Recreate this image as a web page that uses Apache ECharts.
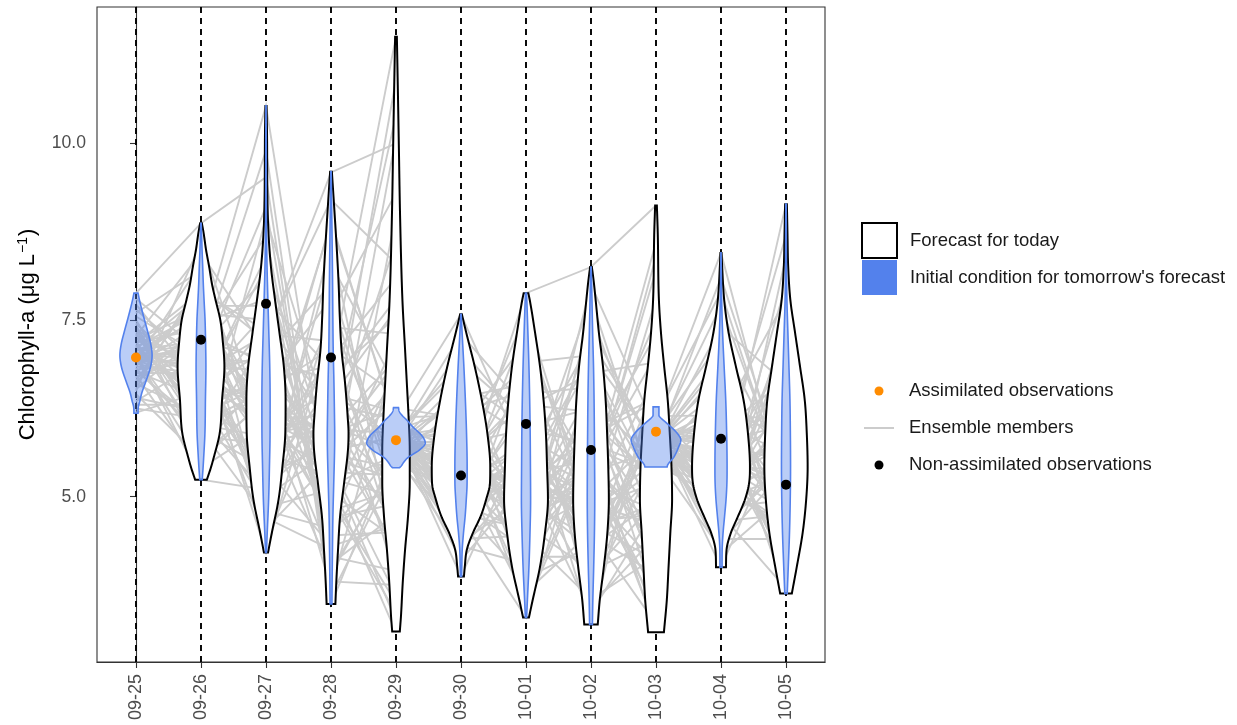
<!DOCTYPE html>
<html>
<head>
<meta charset="utf-8">
<script src="https://cdn.jsdelivr.net/npm/echarts@6/dist/echarts.min.js"></script>
<style>html,body{margin:0;padding:0;background:#fff}#c{width:1237px;height:725px}</style>
</head>
<body>
<div id="c"></div>
<script>
// ---------- data ----------
const categories = ['09-25','09-26','09-27','09-28','09-29','09-30','10-01','10-02','10-03','10-04','10-05'];
const yTicks = [5, 7.5, 10];

// observations
const assimilatedObs = [[0, 6.97], [4, 5.80], [8, 5.92]];
const nonAssimilatedObs = [[1, 7.22], [2, 7.73], [3, 6.97], [5, 5.30], [6, 6.03], [7, 5.66], [9, 5.82], [10, 5.17]];

// ensemble members: forecast value per day (f), initial condition after assimilation (ic)
const ens_ic_0925 = [7.02,6.85,7.31,6.64,7.12,6.95,7.88,6.78,7.45,6.52,7.05,6.90,7.22,6.19,7.60,6.98,6.70,7.15,6.88,7.38,6.45,7.08,6.93,7.27,6.60,7.00,7.72,6.82,7.18,6.35,7.10,6.97,7.50,6.75,7.03,
  6.92,7.25,6.58,7.40,6.80,7.06,6.40,7.65,6.99,6.72,7.14,6.87,7.35,6.50,7.01,7.20,6.68,6.94,7.80,6.30,7.09,6.84,7.42,6.62,7.04,6.91,7.28,6.25,7.12,6.96,7.55,6.77,7.00,6.89,7.17];
const ens_f_0926 = [6.80,7.45,5.92,7.95,6.35,7.10,8.87,6.02,6.60,7.30,5.24,6.95,7.65,6.48,8.20,5.70,7.02,6.25,7.80,6.70,5.55,7.20,6.88,8.45,6.15,7.55,6.58,5.85,7.38,6.92,6.40,7.12,5.98,6.75,7.00,
  7.15,6.45,8.05,5.60,6.90,7.50,6.20,6.85,7.70,5.40,6.65,7.25,6.05,8.60,6.95,5.80,7.40,6.55,7.05,6.30,7.85,6.75,5.95,7.35,6.50,8.30,6.82,6.10,7.60,5.50,7.00,6.40,7.20,6.62,7.90];
const ens_f_0927 = [6.10,7.80,5.40,7.20,6.55,4.21,9.52,5.85,6.30,10.53,5.10,6.90,6.05,8.40,5.65,6.70,4.80,7.45,6.20,5.95,8.95,6.40,5.25,7.05,6.60,4.55,7.60,5.75,6.85,6.15,5.50,8.10,6.45,7.30,5.00,
  5.80,7.10,4.60,6.35,9.10,5.55,6.75,4.95,7.70,6.00,5.30,8.70,6.50,5.90,4.40,7.25,6.25,5.15,9.90,6.65,5.60,7.00,4.70,6.10,8.25,5.45,6.80,5.05,7.50,6.40,5.70,4.85,6.95,6.05,7.35];
const ens_f_0928 = [5.60,6.80,4.30,9.59,5.20,7.40,3.47,6.10,5.85,4.80,8.30,5.45,6.45,3.90,7.00,5.70,4.55,6.25,5.05,8.85,5.95,4.15,6.60,5.35,7.80,5.50,4.95,6.00,3.70,5.80,6.95,5.25,4.65,7.20,5.65,
  6.30,4.45,7.60,5.55,3.80,6.70,5.15,8.60,4.90,6.05,5.75,4.05,7.10,5.40,6.50,9.20,4.70,5.90,3.60,6.85,5.30,8.00,4.25,6.15,5.60,7.50,5.00,6.40,4.50,5.85,8.90,5.10,6.65,3.95,5.95];
const ens_f_0929 = [5.40,11.51,4.60,10.00,3.08,7.30,5.75,4.20,8.60,5.10,6.55,3.60,6.20,5.55,4.85,6.90,5.20,10.40,4.40,6.05,5.90,3.95,7.80,5.30,4.95,6.35,3.35,5.65,7.05,4.70,8.10,5.00,6.70,4.30,5.85,
  6.10,4.50,9.30,5.25,3.75,7.55,5.60,4.10,6.80,5.15,10.90,4.75,6.45,3.25,5.80,8.30,4.90,6.25,5.45,3.85,7.20,5.05,9.00,4.55,6.60,5.35,3.50,7.65,5.70,4.25,6.00,10.10,4.80,5.50,6.95];
const ens_ic_0929 = [5.78,5.70,5.85,6.10,5.62,5.75,5.90,5.55,5.80,6.26,5.68,5.73,5.88,5.41,5.79,5.82,5.65,5.95,5.76,5.60,5.83,5.72,6.02,5.50,5.77,5.86,5.69,5.74,6.15,5.58,5.81,5.71,5.92,5.66,5.78,
  5.74,5.84,5.64,5.98,5.77,5.52,5.87,5.71,6.05,5.79,5.61,5.90,5.75,5.46,5.82,6.20,5.70,5.80,5.57,5.93,5.76,5.67,5.84,6.00,5.73,5.63,5.89,5.78,5.53,5.81,5.96,5.72,5.75,6.12,5.69];
const ens_f_0930 = [5.30,6.40,4.70,7.58,5.10,5.60,3.87,5.90,4.95,6.10,5.40,4.45,6.80,5.20,5.75,4.80,5.50,6.25,5.05,4.25,5.35,7.10,5.65,4.60,5.25,6.00,5.45,4.90,5.15,6.55,5.55,4.35,5.80,5.00,5.38,
  5.45,4.90,6.20,5.15,4.50,5.70,6.90,5.25,4.75,5.95,5.35,4.30,6.45,5.05,5.60,4.65,5.85,7.30,5.20,4.95,6.05,5.40,4.10,5.65,6.65,5.10,4.85,5.50,6.30,5.00,4.40,5.75,5.30,6.15,4.80];
const ens_f_1001 = [4.90,6.60,3.29,5.50,7.88,4.40,5.90,4.95,6.20,3.80,5.20,7.00,4.60,5.70,4.10,6.40,5.05,4.75,7.40,5.35,3.55,6.00,4.85,5.60,4.30,6.85,5.15,4.50,5.80,3.95,6.30,5.00,4.65,5.45,5.25,
  5.10,4.25,6.50,4.80,5.55,3.65,6.10,5.30,4.55,7.20,5.00,4.05,5.85,6.70,4.70,5.40,3.45,6.25,4.95,5.65,4.35,7.60,5.20,4.60,6.00,5.50,3.85,6.45,4.90,5.75,4.45,5.95,6.90,4.15,5.35];
const ens_f_1002 = [5.20,3.60,6.30,4.70,8.25,5.50,4.20,5.80,3.19,6.70,4.90,5.35,7.40,4.45,5.95,3.90,6.05,5.10,4.60,7.00,5.60,4.05,6.50,4.80,5.40,3.45,7.80,5.00,4.35,5.70,6.20,4.95,5.25,4.55,6.90,
  4.85,6.10,3.80,5.45,7.20,4.50,5.65,3.35,6.40,5.05,4.25,7.60,5.30,4.75,6.00,3.70,5.55,6.75,4.40,5.15,8.00,4.65,5.85,3.95,6.25,5.00,4.30,6.55,5.35,4.90,3.55,5.75,7.00,4.15,5.50];
const ens_f_1003 = [4.80,6.20,3.50,5.40,9.12,4.30,5.90,3.08,6.80,5.10,4.60,7.50,5.60,3.90,6.40,4.95,5.25,8.20,4.10,5.75,3.30,6.00,4.70,5.50,7.00,4.45,5.00,3.70,6.60,5.30,4.20,5.85,8.60,4.90,5.15,
  5.20,3.95,6.50,4.55,5.70,3.20,7.30,4.85,5.45,4.05,6.15,5.05,3.60,7.80,4.65,5.55,4.25,6.90,5.35,3.45,5.95,4.75,6.35,4.40,5.15,8.40,4.95,3.80,5.65,6.70,4.15,5.40,4.50,6.05,3.15];
const ens_ic_1003 = [5.80,5.72,5.88,6.05,5.65,5.82,5.95,5.50,5.78,6.27,5.70,5.84,5.90,5.42,5.76,5.86,5.60,6.12,5.81,5.55,5.79,5.74,6.00,5.46,5.83,5.92,5.68,5.77,6.20,5.58,5.85,5.73,5.97,5.63,5.80,
  5.78,5.87,5.66,6.02,5.81,5.53,5.91,5.75,6.08,5.83,5.62,5.94,5.79,5.48,5.85,6.18,5.72,5.82,5.59,5.96,5.80,5.69,5.86,6.00,5.77,5.64,5.89,5.81,5.51,5.84,5.98,5.74,5.79,6.14,5.71];
const ens_f_1004 = [5.40,6.80,4.60,8.45,5.10,5.90,4.00,6.30,5.25,4.85,7.40,5.55,4.40,6.10,5.00,5.70,4.70,7.90,5.35,4.25,6.50,5.15,5.80,4.95,6.00,5.45,4.55,7.00,5.20,5.60,4.80,6.20,5.30,5.05,5.50,
  5.65,4.90,6.40,5.20,4.45,5.85,7.20,5.35,4.65,6.05,5.50,4.20,6.70,5.10,5.75,4.75,5.95,7.70,5.25,4.95,6.25,5.45,4.35,5.70,6.90,5.15,4.85,5.55,6.55,5.05,4.50,5.90,5.40,6.15,8.10];
const ens_f_1005 = [5.40,4.20,7.20,5.00,9.14,4.70,6.10,3.63,5.80,4.95,6.60,5.20,4.40,7.80,5.55,3.95,6.30,5.10,4.80,8.40,5.65,4.55,6.00,5.30,3.80,7.00,5.45,4.85,5.90,4.30,6.80,5.05,5.25,4.65,5.70,
  5.15,6.45,4.50,5.75,7.50,4.10,5.35,6.20,4.75,5.60,8.70,5.00,4.25,6.05,5.50,3.70,6.65,5.20,4.60,7.30,5.85,4.90,5.40,6.35,4.35,5.95,8.00,5.10,4.70,6.90,5.55,4.00,5.80,6.10,5.30];

// violin density profiles: [chlorophyll value, relative density]
const vio_ic_0925 = [[6.18,0.07],[6.27,0.08],[6.35,0.13],[6.47,0.20],[6.61,0.32],[6.84,0.50],[7.00,0.55],[7.17,0.50],[7.32,0.41],[7.55,0.26],[7.78,0.12],[7.88,0.07]];
const vio_f_0926 = [[5.24,0.20],[5.40,0.33],[5.56,0.44],[5.90,0.64],[6.37,0.72],[6.84,0.80],[7.22,0.74],[7.50,0.66],[7.78,0.50],[8.00,0.38],[8.25,0.28],[8.50,0.17],[8.73,0.09],[8.87,0.03]];
const vio_f_0927 = [[4.21,0.07],[4.49,0.20],[4.96,0.43],[5.42,0.56],[5.90,0.66],[6.37,0.67],[6.84,0.61],[7.32,0.46],[7.78,0.31],[8.25,0.17],[8.73,0.085],[9.20,0.05],[10.14,0.035],[10.53,0.02]];
const vio_f_0928 = [[3.48,0.15],[3.78,0.18],[4.25,0.24],[4.72,0.31],[5.20,0.45],[5.66,0.58],[5.90,0.60],[6.13,0.57],[6.61,0.48],[7.08,0.36],[7.55,0.30],[8.02,0.26],[8.49,0.20],[8.96,0.13],[9.60,0.03]];
const vio_f_0929 = [[3.09,0.13],[3.31,0.17],[3.78,0.23],[4.25,0.31],[4.72,0.41],[5.20,0.47],[5.66,0.47],[6.13,0.43],[6.61,0.37],[7.08,0.31],[7.78,0.22],[8.96,0.14],[9.90,0.10],[10.61,0.07],[11.51,0.03]];
const vio_ic_0929 = [[5.41,0.12],[5.43,0.17],[5.49,0.27],[5.55,0.40],[5.66,0.80],[5.76,1.00],[5.85,0.91],[5.99,0.57],[6.08,0.38],[6.14,0.23],[6.20,0.12],[6.26,0.085]];
const vio_f_0930 = [[3.87,0.10],[4.01,0.13],[4.25,0.20],[4.49,0.41],[4.72,0.67],[4.96,0.86],[5.19,0.99],[5.42,1.00],[5.90,0.90],[6.37,0.71],[6.84,0.47],[7.32,0.18],[7.58,0.03]];
const vio_f_1001 = [[3.29,0.10],[3.54,0.23],[4.01,0.48],[4.49,0.65],[4.96,0.75],[5.42,0.72],[5.90,0.68],[6.37,0.60],[6.84,0.48],[7.32,0.31],[7.78,0.13],[7.88,0.08]];
const vio_f_1002 = [[3.19,0.23],[3.54,0.30],[4.01,0.44],[4.49,0.56],[4.96,0.61],[5.42,0.59],[5.90,0.55],[6.37,0.50],[6.84,0.41],[7.32,0.27],[7.78,0.16],[8.02,0.10],[8.25,0.03]];
const vio_f_1003 = [[3.08,0.27],[3.54,0.37],[4.01,0.43],[4.49,0.49],[4.96,0.55],[5.42,0.53],[5.90,0.47],[6.37,0.40],[6.84,0.28],[7.32,0.17],[7.78,0.10],[8.73,0.06],[9.12,0.03]];
const vio_ic_1003 = [[5.42,0.38],[5.45,0.40],[5.56,0.61],[5.71,0.78],[5.80,0.85],[5.90,0.72],[6.05,0.34],[6.12,0.15],[6.15,0.10],[6.27,0.10]];
const vio_f_1004 = [[4.00,0.17],[4.25,0.19],[4.49,0.34],[4.72,0.58],[4.96,0.82],[5.19,0.96],[5.42,0.99],[5.90,0.92],[6.37,0.77],[6.84,0.51],[7.32,0.26],[7.78,0.11],[8.25,0.04],[8.45,0.02]];
const vio_f_1005 = [[3.63,0.20],[4.01,0.37],[4.49,0.57],[4.96,0.69],[5.42,0.74],[5.90,0.71],[6.37,0.64],[6.84,0.48],[7.32,0.31],[7.78,0.15],[8.25,0.075],[8.73,0.05],[9.14,0.03]];

// ---------- build ----------
const forecastProfiles = [null, vio_f_0926, vio_f_0927, vio_f_0928, vio_f_0929, vio_f_0930, vio_f_1001, vio_f_1002, vio_f_1003, vio_f_1004, vio_f_1005];
const IC_SCALE = 0.21; // non-assimilated days: IC equals forecast, drawn on the IC layer's area scale
const icProfiles = forecastProfiles.map(p => p ? p.map(q => [q[0], q[1] * IC_SCALE]) : null);
icProfiles[0] = vio_ic_0925; icProfiles[4] = vio_ic_0929; icProfiles[8] = vio_ic_1003;
const HALF = 0.45;

const F = [null, ens_f_0926, ens_f_0927, ens_f_0928, ens_f_0929, ens_f_0930, ens_f_1001, ens_f_1002, ens_f_1003, ens_f_1004, ens_f_1005];
const IC = [ens_ic_0925, null, null, null, ens_ic_0929, null, null, null, ens_ic_1003, null, null];
const ensembleData = [];
for (let k = 0; k < ens_ic_0925.length; k++) {
  let chain = [[0, IC[0][k]]];
  for (let d = 1; d < categories.length; d++) {
    chain.push([d, F[d][k]]);
    if (IC[d]) { ensembleData.push({ coords: chain }); chain = [[d, IC[d][k]]]; }
  }
  ensembleData.push({ coords: chain });
}

function monotone(xs, ys) {
  const n = xs.length, dx = [], s = [], m = new Array(n);
  for (let i = 0; i < n - 1; i++) { dx[i] = xs[i+1] - xs[i]; s[i] = (ys[i+1] - ys[i]) / dx[i]; }
  m[0] = s[0]; m[n-1] = s[n-2];
  for (let i = 1; i < n - 1; i++) m[i] = (s[i-1] * s[i] <= 0) ? 0 : (s[i-1] + s[i]) / 2;
  for (let i = 0; i < n - 1; i++) {
    if (s[i] === 0) { m[i] = 0; m[i+1] = 0; continue; }
    const a = m[i] / s[i], b = m[i+1] / s[i], h = a*a + b*b;
    if (h > 9) { const t = 3 / Math.sqrt(h); m[i] = t*a*s[i]; m[i+1] = t*b*s[i]; }
  }
  return function (x) {
    let i = 0;
    while (i < n - 2 && x > xs[i+1]) i++;
    const h = dx[i], t = (x - xs[i]) / h, t2 = t*t, t3 = t2*t;
    return (2*t3 - 3*t2 + 1) * ys[i] + (t3 - 2*t2 + t) * h * m[i] + (-2*t3 + 3*t2) * ys[i+1] + (t3 - t2) * h * m[i+1];
  };
}

function violin(profiles, style) {
  return function (params, api) {
    const day = api.value(0);
    const prof = profiles[day];
    if (!prof) return null;
    const xs = prof.map(p => p[0]), ys = prof.map(p => p[1]);
    const f = monotone(xs, ys);
    const N = 160, right = [], left = [];
    const lo = xs[0], hi = xs[xs.length - 1];
    for (let i = 0; i <= N; i++) {
      const v = lo + (hi - lo) * i / N;
      const w = Math.max(0, f(v)) * HALF;
      right.push(api.coord([day + w, v]));
      left.push(api.coord([day - w, v]));
    }
    return { type: 'polygon', shape: { points: right.concat(left.reverse()) }, style: style };
  };
}

const FONT = '"Liberation Sans", Arial, Helvetica, sans-serif';
const BLUE = '#5381EC';
const chart = echarts.init(document.getElementById('c'), null, { renderer: 'canvas' });
chart.setOption({
  backgroundColor: '#fff',
  animation: false,
  textStyle: { fontFamily: FONT },
  grid: { left: 97, right: 412, top: 7, bottom: 63, show: true, borderColor: '#333', borderWidth: 1.1, backgroundColor: '#fff' },
  xAxis: {
    type: 'value', min: -0.6, max: 10.6,
    axisLine: { show: true, lineStyle: { color: '#333', width: 1.1 } },
    axisTick: { show: true, customValues: categories.map((c, i) => i), length: 6, lineStyle: { color: '#333', width: 1.1 } },
    axisLabel: { customValues: categories.map((c, i) => i), rotate: 90, margin: 12, fontSize: 18, color: '#4D4D4D', fontFamily: FONT,
      formatter: v => categories[Math.round(v)] },
    splitLine: { show: false }
  },
  yAxis: {
    type: 'value', min: 2.66, max: 11.93,
    axisLine: { show: true, lineStyle: { color: '#333', width: 1.1 } },
    axisTick: { show: true, customValues: yTicks, length: 6, lineStyle: { color: '#333', width: 1.1 } },
    axisLabel: { customValues: yTicks, margin: 11, fontSize: 17.6, color: '#4D4D4D', fontFamily: FONT, formatter: v => v.toFixed(1) },
    splitLine: { show: false },
    name: 'Chlorophyll-a (μg L{s|−1})', nameLocation: 'middle', nameGap: 58, nameRotate: 90,
    nameTextStyle: { fontSize: 22, color: '#000', fontFamily: FONT,
      rich: { s: { fontSize: 14, verticalAlign: 'top', fontFamily: FONT, color: '#000', padding: [0, 1, 9, 1] } } }
  },
  legend: [
    { orient: 'vertical', left: 861, top: 222, padding: 0, itemWidth: 35, itemHeight: 35, itemGap: 1, selectedMode: false,
      textStyle: { fontSize: 18.5, color: '#1a1a1a', fontFamily: FONT, padding: [0, 0, 0, 8] },
      data: [
        { name: 'Forecast for today', icon: 'rect', itemStyle: { color: '#fff', borderColor: '#000', borderWidth: 2 } },
        { name: "Initial condition for tomorrow's forecast", icon: 'rect', itemStyle: { color: BLUE, borderWidth: 0 } }
      ] },
    { orient: 'vertical', left: 864, top: 381, padding: 0, itemWidth: 30, itemHeight: 9, itemGap: 17, selectedMode: false,
      textStyle: { fontSize: 18.5, color: '#1a1a1a', fontFamily: FONT, lineHeight: 20, padding: [0, 0, 0, 10] },
      data: [
        { name: 'Assimilated observations', icon: 'circle', itemStyle: { color: '#FF8C00', borderWidth: 0 } },
        { name: 'Ensemble members', icon: 'path://M0,0L30,0L30,2L0,2Z', itemStyle: { color: '#CCCCCC', borderWidth: 0 } },
        { name: 'Non-assimilated observations', icon: 'circle', itemStyle: { color: '#000', borderWidth: 0 } }
      ] }
  ],
  series: [
    { name: 'Ensemble members', type: 'lines', coordinateSystem: 'cartesian2d', polyline: true, silent: true, z: 1,
      data: ensembleData, lineStyle: { color: '#CCCCCC', width: 1.9, opacity: 1 }, itemStyle: { color: '#CCCCCC' } },
    { name: 'guides', type: 'scatter', data: [], silent: true, z: 2,
      markLine: { z: 2, silent: true, symbol: 'none', animation: false, label: { show: false },
        lineStyle: { type: [6, 5], color: '#000', width: 1.9 },
        emphasis: { disabled: true },
        data: categories.map((c, i) => ({ xAxis: i })) } },
    { name: 'Forecast for today', type: 'custom', z: 3, silent: true,
      data: categories.map((c, i) => [i]).filter(d => forecastProfiles[d[0]]),
      encode: { x: 0 }, itemStyle: { color: '#fff' },
      renderItem: violin(forecastProfiles, { fill: '#fff', stroke: '#000', lineWidth: 2 }) },
    { name: "Initial condition for tomorrow's forecast", type: 'custom', z: 4, silent: true,
      data: categories.map((c, i) => [i]),
      encode: { x: 0 }, itemStyle: { color: BLUE },
      renderItem: violin(icProfiles, { fill: 'rgba(83,129,236,0.4)', stroke: BLUE, lineWidth: 1.6 }) },
    { name: 'Assimilated observations', type: 'scatter', z: 5, data: assimilatedObs, symbolSize: 10,
      itemStyle: { color: '#FF8C00', opacity: 1 }, silent: true },
    { name: 'Non-assimilated observations', type: 'scatter', z: 5, data: nonAssimilatedObs, symbolSize: 10,
      itemStyle: { color: '#000', opacity: 1 }, silent: true }
  ]
});
</script>
</body>
</html>
